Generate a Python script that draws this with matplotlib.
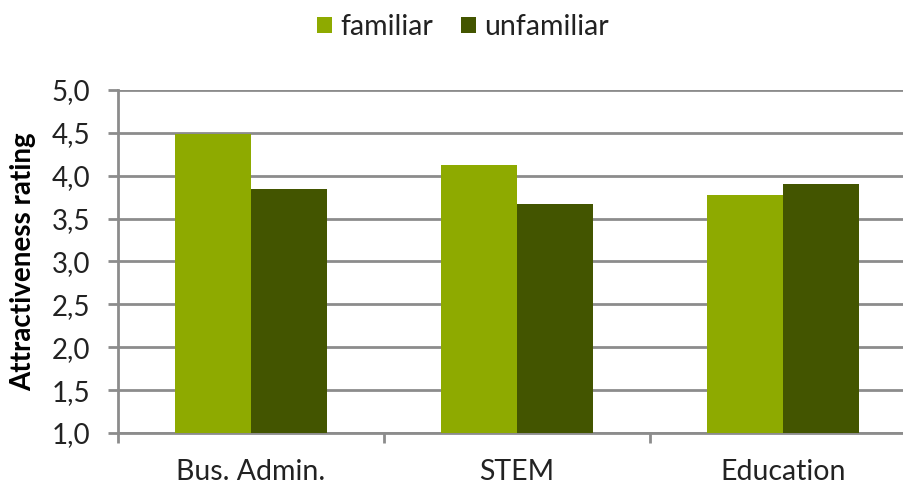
import numpy as np
import matplotlib
matplotlib.use("Agg")
import matplotlib.pyplot as plt
from matplotlib.ticker import FixedLocator, NullFormatter

plt.rcParams['font.family'] = ['Lato', 'DejaVu Sans']

# ratings per field of study
categories = ['Bus. Admin.', 'STEM', 'Education']
familiar = [4.49, 4.12, 3.78]
unfamiliar = [3.85, 3.67, 3.90]
yticks = [1.0, 1.5, 2.0, 2.5, 3.0, 3.5, 4.0, 4.5, 5.0]

green = '#8eaa00'
darkgreen = '#435500'
gridgray = '#8c8c8c'

fig = plt.figure(figsize=(9.04, 4.84), dpi=100)
ax = fig.add_axes([118 / 904, 1 - 433 / 484, 798 / 904, 343 / 484])

x = np.arange(len(categories))
w = 0.285
ax.bar(x - w / 2, np.array(familiar) - 1.0, w, bottom=1.0, color=green,
       label='familiar', zorder=3)
ax.bar(x + w / 2, np.array(unfamiliar) - 1.0, w, bottom=1.0, color=darkgreen,
       label='unfamiliar', zorder=3)

ax.set_xlim(-0.5, 2.5)
ax.set_ylim(1.0, 5.0)
ax.set_yticks(yticks)
ax.set_yticklabels([f'{v:.1f}'.replace('.', ',') for v in yticks], fontsize=20)
ax.set_xticks(x)
ax.set_xticklabels(categories, fontsize=20.5)
ax.xaxis.set_minor_locator(FixedLocator([-0.5, 0.5, 1.5, 2.5]))
ax.xaxis.set_minor_formatter(NullFormatter())
ax.tick_params(axis='x', which='major', length=0, pad=19, colors='#222222')
ax.tick_params(axis='x', which='minor', length=7, width=2, color=gridgray)
ax.tick_params(axis='y', length=7, width=2, color=gridgray, pad=13,
               labelcolor='#222222')

ax.grid(axis='y', color=gridgray, linewidth=2, zorder=0)
for side in ['top', 'right']:
    ax.spines[side].set_visible(False)
ax.spines['left'].set_color(gridgray)
ax.spines['left'].set_linewidth(2)
ax.spines['bottom'].set_color(gridgray)
ax.spines['bottom'].set_linewidth(2)

ax.set_ylabel('Attractiveness rating', fontsize=20, fontweight='bold')
ax.yaxis.set_label_coords(-(118 - 36) / 798, (433 - 262) / 343)

fig.legend(loc='center', bbox_to_anchor=(463 / 904, 1 - 27 / 484), ncol=2,
           frameon=False, fontsize=20.5, handlelength=0.5, handleheight=0.5,
           handletextpad=0.3, columnspacing=1.0, labelcolor='#222222')

fig.savefig('out.png', dpi=100)
